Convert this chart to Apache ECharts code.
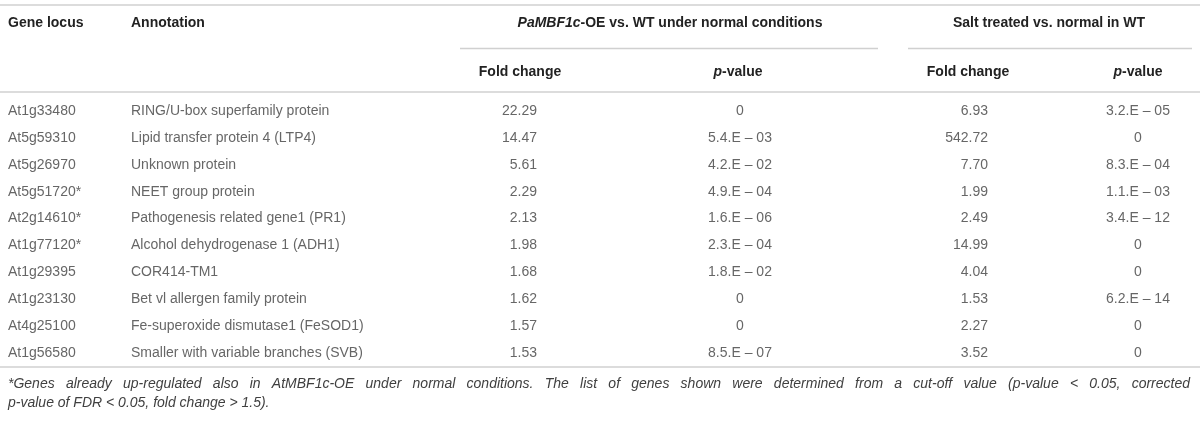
<!DOCTYPE html>
<html>
<head>
<meta charset="utf-8">
<script src="https://cdn.jsdelivr.net/npm/echarts@6/dist/echarts.min.js"></script>
<style>
html,body{margin:0;padding:0;background:#fff;}
#main{width:1200px;height:424px;}
</style>
</head>
<body>
<div id="main"></div>
<script>
// ---- data ----
var geneLoci = ['At1g33480','At5g59310','At5g26970','At5g51720*','At2g14610*','At1g77120*','At1g29395','At1g23130','At4g25100','At1g56580'];
var annotations = ['RING/U-box superfamily protein','Lipid transfer protein 4 (LTP4)','Unknown protein','NEET group protein','Pathogenesis related gene1 (PR1)','Alcohol dehydrogenase 1 (ADH1)','COR414-TM1','Bet vl allergen family protein','Fe-superoxide dismutase1 (FeSOD1)','Smaller with variable branches (SVB)'];
var foldOE = [22.29, 14.47, 5.61, 2.29, 2.13, 1.98, 1.68, 1.62, 1.57, 1.53];
var pOE = ['0','5.4.E \u2013 03','4.2.E \u2013 02','4.9.E \u2013 04','1.6.E \u2013 06','2.3.E \u2013 04','1.8.E \u2013 02','0','0','8.5.E \u2013 07'];
var foldSalt = [6.93, 542.72, 7.70, 1.99, 2.49, 14.99, 4.04, 1.53, 2.27, 3.52];
var pSalt = ['3.2.E \u2013 05','0','8.3.E \u2013 04','1.1.E \u2013 03','3.4.E \u2013 12','0','0','6.2.E \u2013 14','0','0'];
var footnote1 = '*Genes already up-regulated also in AtMBF1c-OE under normal conditions. The list of genes shown were determined from a cut-off value (p-value < 0.05, corrected';
var footnote2 = 'p-value of FDR < 0.05, fold change > 1.5).';

// ---- layout ----
var FONT = '"Liberation Sans", Arial, Helvetica, sans-serif';
var BODY = '#404040', HEAD = '#222222', RULE = '#d0d0d0';
var colAnchor = {gene: 8, annot: 131, fc1: 537, p1: 740, fc2: 988, p2: 1138};

var chart = echarts.init(document.getElementById('main'), null, {renderer: 'canvas'});

function col(anchor, align, texts) {
  return {
    type: 'scatter',
    silent: true,
    symbolSize: 1,
    itemStyle: {color: 'rgba(0,0,0,0)'},
    data: texts.map(function (t, i) { return {value: [anchor, i], name: t}; }),
    label: {
      show: true,
      position: 'inside',
      align: align,
      verticalAlign: 'middle',
      formatter: function (p) { return p.name; },
      color: BODY,
      fontFamily: FONT,
      fontSize: 14
    },
    emphasis: {disabled: true}
  };
}

function fmt2(v) { return v.toFixed(2); }

function hText(x, y, text, align, rich) {
  return {
    type: 'text', x: x, y: y, silent: true,
    style: {
      text: text, align: align, verticalAlign: 'middle',
      fill: HEAD, font: 'bold 14px ' + FONT, rich: rich
    }
  };
}
function rule(x1, x2, y) {
  return {type: 'line', silent: true, shape: {x1: x1, y1: y, x2: x2, y2: y}, style: {stroke: RULE, lineWidth: 1.5}};
}

// justified footnote line
var footFont = 'italic 14px ' + FONT;
function justified(text, left, right, y) {
  var ctx = document.createElement('canvas').getContext('2d');
  ctx.font = footFont;
  var words = text.split(' ');
  var widths = words.map(function (w) { return ctx.measureText(w).width; });
  var total = widths.reduce(function (a, b) { return a + b; }, 0);
  var gap = (right - left - total) / (words.length - 1);
  var x = left, out = [];
  words.forEach(function (w, i) {
    out.push({type: 'text', x: x, y: y, silent: true,
      style: {text: w, align: 'left', verticalAlign: 'middle', fill: BODY, font: footFont}});
    x += widths[i] + gap;
  });
  return out;
}

var richHead = {
  i: {fontStyle: 'italic', fontWeight: 'bold', fontSize: 14, fontFamily: FONT, fill: HEAD, color: HEAD},
  b: {fontWeight: 'bold', fontSize: 14, fontFamily: FONT, fill: HEAD, color: HEAD}
};

var graphics = [
  rule(0, 1200, 5),
  hText(8, 23, 'Gene locus', 'left'),
  hText(131, 23, 'Annotation', 'left'),
  hText(670, 23, '{i|PaMBF1c}{b|-OE vs. WT under normal conditions}', 'center', richHead),
  hText(1049, 23, 'Salt treated vs. normal in WT', 'center'),
  rule(460, 878, 48.5),
  rule(908, 1192, 48.5),
  hText(520, 72, 'Fold change', 'center'),
  hText(738, 72, '{i|p}{b|-value}', 'center', richHead),
  hText(968, 72, 'Fold change', 'center'),
  hText(1138, 72, '{i|p}{b|-value}', 'center', richHead),
  rule(0, 1200, 92),
  rule(0, 1200, 367),
  {type: 'text', x: 8, y: 403, silent: true, style: {text: footnote2, align: 'left', verticalAlign: 'middle', fill: BODY, font: footFont}}
].concat(justified(footnote1, 8, 1190, 384));

var option = {
  animation: false,
  backgroundColor: '#ffffff',
  grid: {left: 0, right: 0, top: 97.5, height: 269},
  xAxis: {type: 'value', min: 0, max: 1200, show: false},
  yAxis: {type: 'category', data: geneLoci, inverse: true, show: false},
  series: [
    col(colAnchor.gene, 'left', geneLoci),
    col(colAnchor.annot, 'left', annotations),
    col(colAnchor.fc1, 'right', foldOE.map(fmt2)),
    col(colAnchor.p1, 'center', pOE),
    col(colAnchor.fc2, 'right', foldSalt.map(fmt2)),
    col(colAnchor.p2, 'center', pSalt)
  ],
  graphic: graphics
};
chart.setOption(option);
</script>
</body>
</html>
